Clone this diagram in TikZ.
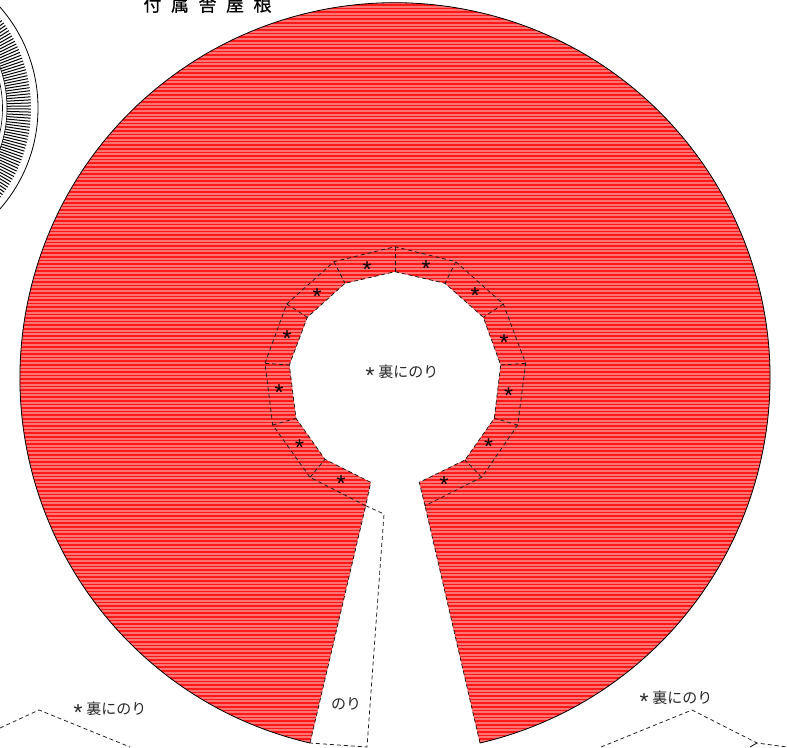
\documentclass[tikz,border=0pt]{standalone}
\usepackage{fontspec}
\usetikzlibrary{calc}
\setmainfont{Noto Sans CJK JP}
\newfontfamily\starfont{Liberation Sans}
\definecolor{roofred}{RGB}{255,25,25}
\definecolor{roofline}{RGB}{255,115,115}
\newcommand{\astmark}{\smash{\raisebox{-5.5pt}{\fontsize{23}{23}\starfont *}}}
\tikzset{
  foldline/.style={line width=0.75pt,dash pattern=on 4pt off 3pt,black!90},
  edgeline/.style={line width=0.8pt,black},
  gluelabel/.style={inner sep=0pt,font=\fontsize{15}{17}\selectfont,text=black!85},
  starmark/.style={inner sep=0pt,font=\fontsize{23}{23}\starfont,yshift=-4.9pt}
}
\begin{document}
\begin{tikzpicture}[x=1pt,y=-1pt]
\clip (0,0) rectangle (787,747);
% roof piece
\def\roofpath{(310,743) arc[start angle=-103.1,end angle=-436.9,radius=375pt]
  -- (425,505.7) -- (419.3,482.3) -- (465,460) -- (494.3,418.3) -- (500.7,365) -- (483.3,317.3)
  -- (445,283.3) -- (395,271.7) -- (345,283.3) -- (307.3,317.3) -- (289.3,365) -- (296,418.3)
  -- (325,459.3) -- (370.7,482.3) -- (365.7,505.7) -- cycle}
\fill[roofred] \roofpath;
\begin{scope}
  \clip \roofpath;
  \foreach \i in {0,...,208}{
    \pgfmathsetmacro{\yy}{round(3.6*\i)+3}
    \draw[roofline,line width=2pt] (0,\yy) -- (787,\yy);
  }
\end{scope}
% fold lines
\draw[foldline] (365.7,505.7) -- (310,477.3) -- (272.7,425) -- (265,363.3) -- (286.7,304) -- (334,261.7)
  -- (395,246.7) -- (455.7,261.7) -- (503.3,304) -- (525.7,363.3) -- (517.7,425) -- (481.7,477.3) -- (425,505.7);
\draw[foldline] (395,246.7) -- (395,271.7);
\draw[foldline] (455.7,261.7) -- (445,283.3);
\draw[foldline] (503.3,304) -- (483.3,317.3);
\draw[foldline] (525.7,363.3) -- (500.7,365);
\draw[foldline] (517.7,425) -- (494.3,418.3);
\draw[foldline] (481.7,477.3) -- (465,460);
\draw[foldline] (334,261.7) -- (345,283.3);
\draw[foldline] (286.7,304) -- (307.3,317.3);
\draw[foldline] (265,363.3) -- (289.3,365);
\draw[foldline] (272.7,425) -- (296,418.3);
\draw[foldline] (310,477.3) -- (325,459.3);
% outline
\draw[edgeline] (310,743) arc[start angle=-103.1,end angle=-436.9,radius=375pt];
\draw[foldline] (425,505.7) -- (419.3,482.3) -- (465,460) -- (494.3,418.3) -- (500.7,365) -- (483.3,317.3)
  -- (445,283.3) -- (395,271.7) -- (345,283.3) -- (307.3,317.3) -- (289.3,365) -- (296,418.3)
  -- (325,459.3) -- (370.7,482.3) -- (365.7,505.7);
\draw[foldline] (480,743) -- (425,505.7);
\draw[foldline] (310,743) -- (365.7,505.7);
% glue flap
\draw[foldline] (365.7,505.7) -- (384,514) -- (367,747) -- (310,743);
% neighbouring pieces
\draw[foldline] (0,728) -- (39,710) -- (130,747);
\draw[foldline] (601,747) -- (692,710) -- (757,743) -- (787,747);
\draw[line width=0.75pt] (757,743) -- (750,747);
% left ring
\coordinate (ringc) at (-115,108);
\draw[line width=0.8pt] (ringc) circle[radius=153pt];
\draw[line width=0.6pt] (ringc) circle[radius=122pt];
\draw[line width=0.6pt] (ringc) circle[radius=117.5pt];
\foreach \t in {-70,-68.8,...,70}{
  \draw[line width=1pt] ($(ringc)+(\t:122pt)$) -- ($(ringc)+(\t:146pt)$);
}
% stars
\foreach \n/\x/\y in {a/367/265,b/426/264,c/317/292,d/475/291,e/287/334,f/504/338,g/279/388,h/508.5/391,i/299.5/443,j/488.5/442,k/341/479,l/444/479.5}{
  \node[starmark] (star\n) at (\x,\y) {*};
}
% labels
\node[gluelabel] (glueinner) at (402,372) {\astmark\hspace{4pt}裏にのり};
\node[gluelabel] (glueleft) at (110,709) {\astmark\hspace{4pt}裏にのり};
\node[gluelabel] (glueright) at (676,698) {\astmark\hspace{4pt}裏にのり};
\node[gluelabel] (noriflap) at (346,704) {のり};
\node[inner sep=0pt,font=\fontsize{18}{20}\selectfont\addfontfeatures{FakeBold=0.4}] (title) at (207.5,4.5) {付\hspace{9.5pt}属\hspace{9.5pt}舎\hspace{9.5pt}屋\hspace{9.5pt}根};
\end{tikzpicture}
\end{document}
